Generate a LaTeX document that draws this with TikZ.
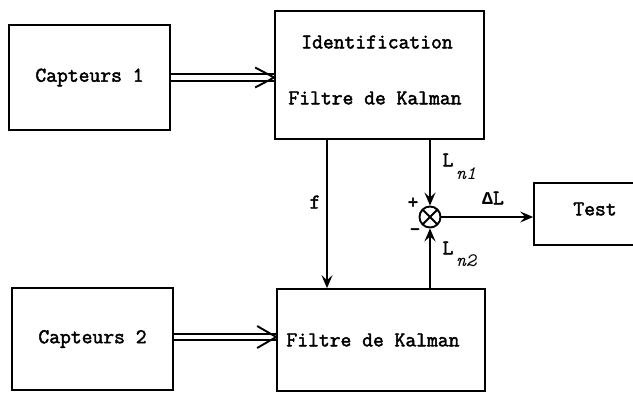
\documentclass[tikz,border=0pt]{standalone}
\usepackage{fontspec}
\setmonofont{Latin Modern Mono}[AutoFakeBold=2.2]
\newfontfamily\symmono{Liberation Mono}
\usetikzlibrary{arrows.meta}
\tikzset{
  blockbox/.style={draw, line width=1.7pt, rectangle, inner sep=0pt},
  txt/.style={font=\fontsize{21}{23}\selectfont\ttfamily\bfseries, inner sep=0pt},
  small/.style={font=\fontsize{19}{21}\selectfont\ttfamily\bfseries, inner sep=0pt},
  sig/.style={line width=1.7pt, -{Stealth[length=13pt,width=11pt,inset=5pt]}},
  dbl/.style={line width=1.8pt, double, double distance=4.5pt},
  chevron/.style={line width=1.9pt, line join=miter},
  sumnode/.style={draw, circle, line width=1.9pt, minimum size=21pt, inner sep=0pt,
    path picture={\draw[line width=1.9pt]
      (path picture bounding box.north west) -- (path picture bounding box.south east)
      (path picture bounding box.north east) -- (path picture bounding box.south west);}}
}
\begin{document}
\begin{tikzpicture}[x=1pt, y=-1pt]
\useasboundingbox (0,0) rectangle (633,394);
\clip (0,0) rectangle (633,394);

% blocks
\node[blockbox, minimum width=161pt, minimum height=105pt, txt] (capt1) at (89.5,77.5) {Capteurs 1};
\node[blockbox, minimum width=209pt, minimum height=128pt] (id) at (379.5,75) {};
\node[txt] (idtxt) at (377,42) {Identification};
\node[txt] (kf1txt) at (375,98) {Filtre de Kalman};
\node[blockbox, minimum width=161pt, minimum height=102pt, txt] (capt2) at (92.5,339) {Capteurs 2};
\node[blockbox, minimum width=208pt, minimum height=102pt] (kf2) at (381,340) {};
\node[txt] (kf2txt) at (373,340) {Filtre de Kalman};
\node[blockbox, minimum width=122pt, minimum height=62pt] (test) at (595,214) {};
\node[txt] (testtxt) at (595,209) {Test};

% comparator
\node[sumnode] (sum) at (430,217) {};
\coordinate (fx) at (327,0);

% double (data) connections with open chevron heads
\coordinate (tip1) at (capt1.east -| id.west);
\coordinate (tip2) at ([yshift=2pt]capt2.east -| kf2.west);
\draw[dbl] (capt1.east) -- (tip1);
\draw[chevron] (tip1) ++(-19,-10) -- (tip1) -- ++(-19,10);
\draw[dbl] ([yshift=2pt]capt2.east) -- (tip2);
\draw[chevron] (tip2) ++(-19,-11) -- (tip2) -- ++(-19,11);

% signal connections
\draw[sig] (id.south -| fx) -- (kf2.north -| fx);
\draw[sig] (id.south -| sum) -- (sum.north);
\draw[sig] (kf2.north -| sum) -- (sum.south);
\draw[sig] (sum.east) -- (sum.east -| test.west);

% labels
\node[txt] (flab) at (315,202) {f};
\node[txt] (ln1) at (448,160) {L};
\node[small, anchor=west] (ln1s) at (456,174) {\itshape n1};
\node[txt] (ln2) at (448,248) {L};
\node[small, anchor=west] (ln2s) at (456,261) {\itshape n2};
\node[txt] (dl) at (493,198) {{\symmono\fontsize{18}{20}\selectfont Δ}L};
\node[txt] (plus) at (413,203) {+};
\node[txt] (minus) at (415,232) {-};
\end{tikzpicture}
\end{document}
